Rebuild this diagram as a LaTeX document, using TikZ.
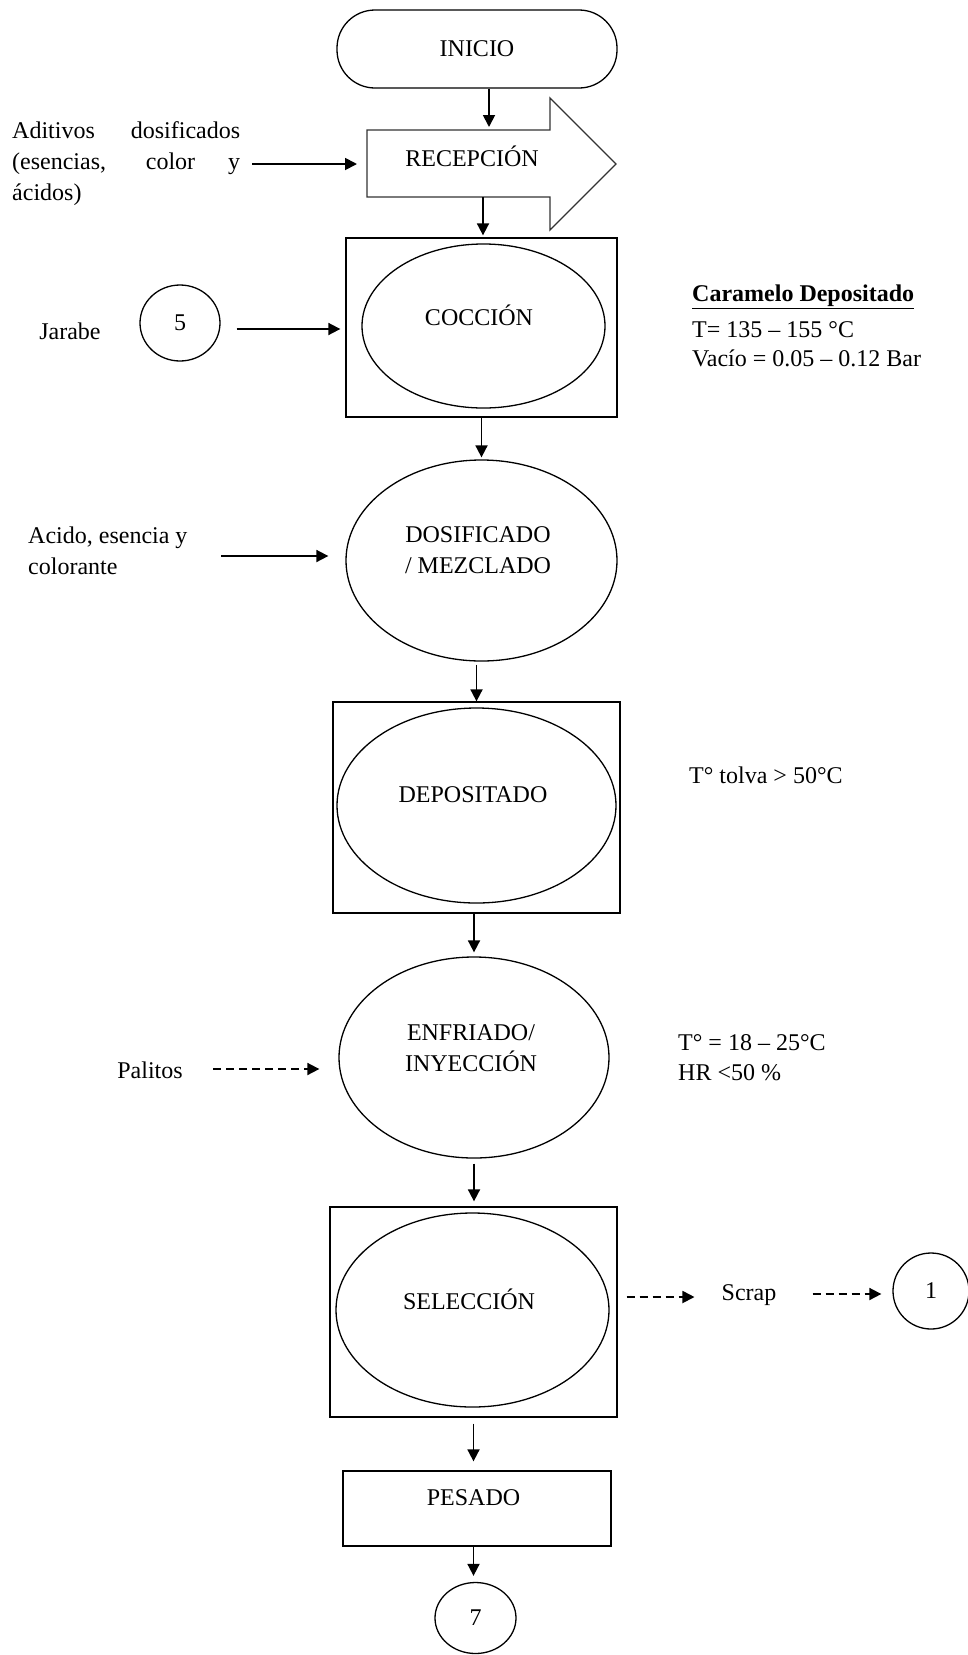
\documentclass[tikz,border=0pt]{standalone}
\usepackage{fontspec}
\setmainfont{Liberation Serif}
\usetikzlibrary{arrows.meta,shapes.geometric}
\begin{document}
\begin{tikzpicture}[x=1pt,y=-1pt,
  txt/.style={inner sep=0pt, font=\fontsize{24}{31}\selectfont},
  shp/.style={draw, line width=1.3pt, inner sep=0pt},
  arr/.style={line width=1.8pt, -{Triangle[length=12pt,width=12pt]}},
  darr/.style={arr, dash pattern=on 8pt off 5pt},
]
\useasboundingbox (0,0) rectangle (968,1655);

% INICIO
\node[shp, txt, rounded corners=38pt, minimum width=280pt, minimum height=78pt] (ini) at (477,49) {INICIO};

% RECEPCION (block arrow)
\coordinate (recN) at (489,130);
\coordinate (recS) at (483,197);
\coordinate (recW) at (367,164);
\draw[shp, draw=black!80] (367,130) -- (550,130) -- (550,98) -- (616,164) -- (550,230) -- (550,197) -- (367,197) -- cycle;
\node[txt] (rec) at (472,156) {RECEPCIÓN};
\draw[arr, shorten >=3pt] (ini.south -| recN) -- (recN);

\node[txt, align=left, anchor=west] (adit) at (12,164) {\makebox[228pt][s]{Aditivos dosificados}\\\makebox[228pt][s]{(esencias, color y}\\ácidos)};
\draw[arr, shorten >=10pt] ([xshift=12pt]adit.east) -- (recW);

% COCCION
\node[shp, minimum width=271pt, minimum height=179pt] (cocbox) at (481.5,327.5) {};
\node[shp, ellipse, minimum width=243pt, minimum height=164pt] (coc) at (483.5,326) {};
\node[txt] (coctxt) at (479,315) {COCCIÓN};
\draw[arr, shorten >=2pt] (recS) -- (recS |- cocbox.north);

\node[txt] (jar) at (70,331) {Jarabe};
\node[shp, txt, ellipse, minimum width=80pt, minimum height=76pt] (c5) at (180,323) {5};
\draw[arr, shorten <=16pt, shorten >=5pt] ([yshift=-6pt]c5.east) -- ([yshift=-6pt]c5.east -| cocbox.west);

\node[txt, anchor=west, font=\fontsize{24}{31}\selectfont\bfseries] (car1) at (692,297) {\underline{Caramelo Depositado}};
\node[txt, anchor=west] (car2) at (692,330) {T= 135 – 155 °C};
\node[txt, anchor=west] (car3) at (692,358) {Vacío = 0.05 – 0.12 Bar};

% DOSIFICADO
\node[shp, ellipse, minimum width=271pt, minimum height=201pt] (dos) at (481.5,560.5) {};
\node[txt, align=center] (dostxt) at (478,550.5) {DOSIFICADO\\/ MEZCLADO};
\draw[arr, shorten >=2pt] (cocbox.south) -- (dos.north);
\node[txt, align=left, anchor=west] (acid) at (28,551) {Acido, esencia y\\colorante};
\draw[arr, shorten >=17pt] ([xshift=-124pt,yshift=4.5pt]dos.west) -- ([yshift=4.5pt]dos.west);

% DEPOSITADO
\node[shp, minimum width=287pt, minimum height=211pt] (depbox) at (476.5,807.5) {};
\node[shp, ellipse, minimum width=279pt, minimum height=195pt] (dep) at (476.5,805.5) {};
\node[txt] (deptxt) at (473,795) {DEPOSITADO};
\draw[arr, shorten <=3pt] (dos.south -| depbox.north) -- (depbox.north);
\node[txt, anchor=west] (tolva) at (689,775) {T° tolva > 50°C};

% ENFRIADO
\node[shp, ellipse, minimum width=270pt, minimum height=201pt] (enf) at (474,1057.5) {};
\node[txt, align=center] (enftxt) at (471,1048.5) {ENFRIADO/\\INYECCIÓN};
\draw[arr, shorten >=4pt] (depbox.south -| enf.north) -- (enf.north);
\node[txt] (pal) at (150,1070) {Palitos};
\draw[darr, shorten >=19pt] ([xshift=-125pt,yshift=-11.5pt]enf.west) -- ([yshift=-11.5pt]enf.west);
\node[txt, anchor=west] (tc) at (678,1043) {T° = 18 – 25°C};
\node[txt, anchor=west] (hr) at (678,1073) {HR <50 \%};

% SELECCION
\node[shp, minimum width=287pt, minimum height=210pt] (selbox) at (473.5,1312) {};
\node[shp, ellipse, minimum width=273pt, minimum height=194pt] (sel) at (472.5,1310) {};
\node[txt] (seltxt) at (469,1299) {SELECCIÓN};
\draw[arr, shorten <=5pt, shorten >=5pt] (enf.south) -- (enf.south |- selbox.north);
\node[txt] (scrap) at (749,1295) {Scrap};
\draw[darr, shorten <=9pt, shorten >=27pt] ([yshift=15pt]selbox.east) -- ([yshift=15pt]selbox.east -| scrap.west);
\node[shp, txt, ellipse, minimum width=76pt, minimum height=76pt] (c1) at (931,1291) {1};
\draw[darr, shorten <=36pt, shorten >=11pt] ([yshift=1pt]scrap.east) -- ([yshift=1pt]scrap.east -| c1.west);

% PESADO
\node[shp, minimum width=268pt, minimum height=75pt] (pes) at (477,1508.5) {};
\node[txt] (pestxt) at (473.5,1498) {PESADO};
\draw[arr, shorten <=6pt, shorten >=9pt] (selbox.south) -- (selbox.south |- pes.north);
\node[shp, txt, ellipse, minimum width=81pt, minimum height=71pt] (c7) at (475.5,1618) {7};
\draw[arr, shorten >=6pt] (selbox.south |- pes.south) -- (selbox.south |- c7.north);
\end{tikzpicture}
\end{document}
